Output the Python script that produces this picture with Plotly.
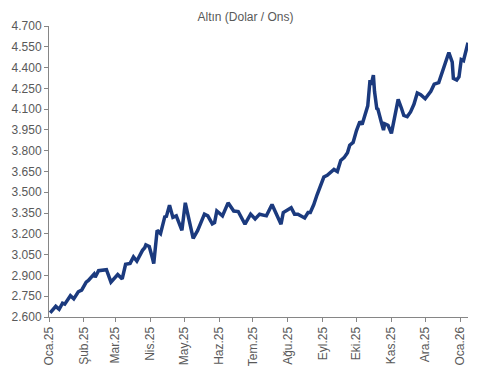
import plotly.graph_objects as go

dates = [
    "2025-01-02", "2025-01-07", "2025-01-10", "2025-01-13", "2025-01-15", "2025-01-20",
    "2025-01-23", "2025-01-27", "2025-01-30", "2025-02-03", "2025-02-05", "2025-02-10",
    "2025-02-11", "2025-02-14", "2025-02-21", "2025-02-25", "2025-03-03", "2025-03-07",
    "2025-03-10", "2025-03-14", "2025-03-17", "2025-03-20", "2025-03-25", "2025-03-27",
    "2025-03-28", "2025-03-31", "2025-04-03", "2025-04-04", "2025-04-07", "2025-04-10",
    "2025-04-14", "2025-04-15", "2025-04-18", "2025-04-21", "2025-04-24", "2025-04-29",
    "2025-05-02", "2025-05-05", "2025-05-07", "2025-05-09", "2025-05-13", "2025-05-19",
    "2025-05-22", "2025-05-26", "2025-05-28", "2025-05-30", "2025-06-04", "2025-06-09",
    "2025-06-14", "2025-06-18", "2025-06-22", "2025-06-24", "2025-06-29", "2025-07-03",
    "2025-07-07", "2025-07-13", "2025-07-18", "2025-07-22", "2025-07-26", "2025-07-28",
    "2025-08-04", "2025-08-07", "2025-08-10", "2025-08-16", "2025-08-19", "2025-08-21",
    "2025-08-24", "2025-08-27", "2025-08-30", "2025-09-02", "2025-09-05", "2025-09-08",
    "2025-09-11", "2025-09-14", "2025-09-17", "2025-09-20", "2025-09-23", "2025-09-25",
    "2025-09-28", "2025-10-01", "2025-10-04", "2025-10-06", "2025-10-09", "2025-10-11",
    "2025-10-13", "2025-10-14", "2025-10-16", "2025-10-17", "2025-10-19", "2025-10-20",
    "2025-10-23", "2025-10-25", "2025-10-26", "2025-10-29", "2025-11-01", "2025-11-04",
    "2025-11-07", "2025-11-10", "2025-11-12", "2025-11-15", "2025-11-18", "2025-11-21",
    "2025-11-24", "2025-11-27", "2025-12-01", "2025-12-06", "2025-12-09", "2025-12-13",
    "2025-12-16", "2025-12-19", "2025-12-22", "2025-12-25", "2025-12-26", "2025-12-29",
    "2025-12-31", "2026-01-02", "2026-01-04", "2026-01-08",
]
gold_usd_oz = [
    2630, 2677, 2656, 2700, 2693, 2754,
    2731, 2782, 2794, 2852, 2864, 2910,
    2887, 2934, 2941, 2852, 2906, 2875,
    2980, 2987, 3034, 3004, 3081, 3100,
    3120, 3109, 3020, 2985, 3225, 3202,
    3330, 3319, 3407, 3319, 3330, 3225,
    3424, 3319, 3249, 3167, 3225, 3342,
    3330, 3272, 3281, 3365, 3330, 3424,
    3365, 3361, 3300, 3270, 3342, 3307,
    3342, 3330, 3412, 3342, 3270, 3354,
    3389, 3342, 3342, 3315, 3354, 3354,
    3410, 3482, 3555, 3610, 3622, 3640,
    3665, 3650, 3730, 3750, 3785, 3840,
    3860, 3945, 4010, 3990, 4065, 4124,
    4310, 4275, 4345, 4229, 4105, 4100,
    4007, 3949, 3995, 3984, 3925, 4040,
    4170, 4105, 4054, 4045, 4080, 4135,
    4217, 4205, 4175, 4229, 4280, 4292,
    4369, 4452, 4509, 4439, 4322, 4310,
    4333, 4458, 4450, 4579,
]

month_ticks = [
    "2025-01-01", "2025-02-01", "2025-03-01", "2025-04-01", "2025-05-01", "2025-06-01",
    "2025-07-01", "2025-08-01", "2025-09-01", "2025-10-01", "2025-11-01", "2025-12-01",
    "2026-01-01",
]
month_labels = [
    "Oca.25", "Şub.25", "Mar.25", "Nis.25", "May.25", "Haz.25", "Tem.25",
    "Ağu.25", "Eyl.25", "Eki.25", "Kas.25", "Ara.25", "Oca.26",
]
y_ticks = [2600, 2750, 2900, 3050, 3200, 3350, 3500, 3650, 3800, 3950, 4100, 4250, 4400, 4550, 4700]

font_family = "Liberation Sans, Arial, sans-serif"
text_color = "#595959"
axis_color = "#868686"

fig = go.Figure(
    go.Scatter(
        x=dates,
        y=gold_usd_oz,
        mode="lines",
        line=dict(color="#1B3A7E", width=3.5),
        hoverinfo="x+y",
    )
)

fig.update_layout(
    width=491,
    height=378,
    margin=dict(l=42, r=23, t=26, b=52),
    paper_bgcolor="white",
    plot_bgcolor="white",
    separators=",.",
    showlegend=False,
    font=dict(family=font_family, size=12, color=text_color),
    title=dict(
        text="Altın (Dolar / Ons)",
        x=0.5,
        xanchor="center",
        y=1 - 17 / 378,
        yanchor="middle",
        font=dict(family=font_family, size=12, color=text_color),
    ),
    xaxis=dict(
        type="date",
        range=["2025-01-01", "2026-01-08"],
        tickmode="array",
        tickvals=month_ticks,
        ticktext=month_labels,
        tickangle=-90,
        ticks="outside",
        ticklen=4,
        tickcolor=axis_color,
        showline=True,
        linecolor=axis_color,
        linewidth=1,
        showgrid=False,
        zeroline=False,
        tickfont=dict(family=font_family, size=12, color=text_color),
    ),
    yaxis=dict(
        range=[2600, 4700],
        tickmode="array",
        tickvals=y_ticks,
        tickformat=",d",
        ticks="outside",
        ticklen=4,
        tickcolor=axis_color,
        showline=True,
        linecolor=axis_color,
        linewidth=1,
        showgrid=False,
        zeroline=False,
        tickfont=dict(family=font_family, size=12, color=text_color),
    ),
)

fig.write_html(
    "out.html",
    config={"displayModeBar": False},
    post_script="document.body.style.margin='0';document.body.style.overflow='hidden';",
)
